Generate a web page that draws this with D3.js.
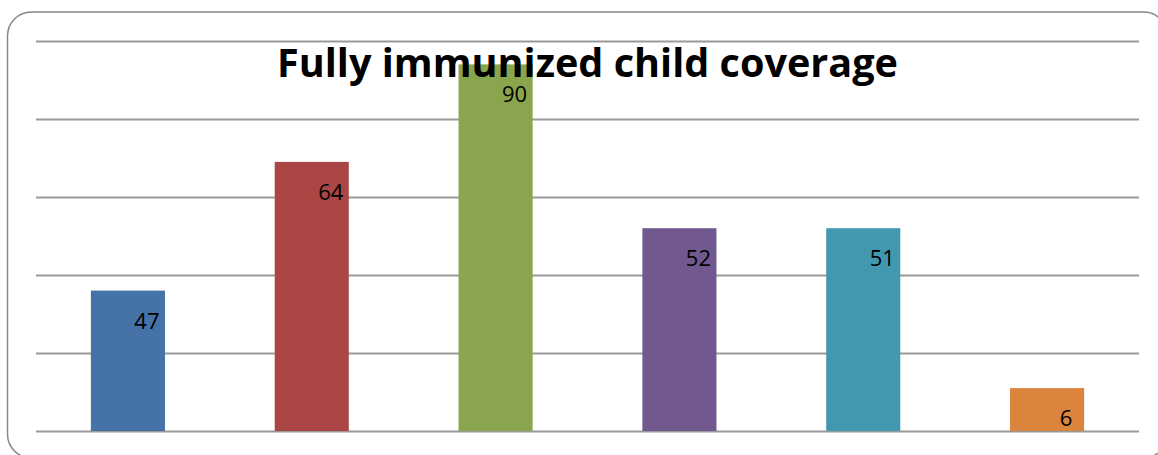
<!DOCTYPE html>
<html>
<head>
<meta charset="utf-8">
<script src="https://cdn.jsdelivr.net/npm/d3@7"></script>
<style>
  body { margin: 0; background: #fff; }
  .grid line { stroke: #9a9a9a; stroke-width: 2; }
  .label { font-family: "Open Sans", sans-serif; font-size: 22px; fill: #000; }
  .title { font-family: "Open Sans", sans-serif; font-weight: bold; font-size: 40px; fill: #000; }
</style>
</head>
<body>
<div id="chart"></div>
<script>
// bars have no category labels in the picture, so these are placeholders
var categories = ["c1", "c2", "c3", "c4", "c5", "c6"];
// bar heights as drawn (read against the gridlines, 0-100 scale)
var barValues = [36, 69, 94, 52, 52, 11];
// data labels as printed on the bars
var labelValues = [47, 64, 90, 52, 51, 6];
var gridTicks = [0, 20, 40, 60, 80, 100];
var colors = ["#4572A7", "#AA4643", "#89A54E", "#71588F", "#4198AF", "#DB843D"];

var width = 1158, height = 455;
var margin = { left: 36, right: 19, top: 41, bottom: 24 };
var plotW = width - margin.left - margin.right,
    plotH = height - margin.top - margin.bottom;

var svg = d3.select("#chart").append("svg")
    .attr("width", width)
    .attr("height", height);

// rounded outer frame
svg.append("rect")
    .attr("x", 7.5).attr("y", 12)
    .attr("width", 1160).attr("height", 446)
    .attr("rx", 24).attr("ry", 24)
    .attr("fill", "#fff")
    .attr("stroke", "#878787")
    .attr("stroke-width", 1.5);

var g = svg.append("g")
    .attr("transform", "translate(" + margin.left + "," + margin.top + ")");

var x = d3.scaleBand().domain(categories).range([0, plotW])
    .paddingInner(0.597).paddingOuter(0.597 / 2);

var y = d3.scaleLinear().domain([0, 100]).range([plotH, 0]);

// gridlines
g.append("g")
    .attr("class", "grid")
    .call(d3.axisLeft(y).tickValues(gridTicks).tickSize(-plotW).tickFormat(""))
    .call(function(s) { s.select(".domain").remove(); });

var data = categories.map(function(c, i) {
  return { cat: c, v: barValues[i], label: labelValues[i], color: colors[i] };
});

g.append("g")
    .selectAll("rect").data(data).enter().append("rect")
    .attr("x", function(d) { return x(d.cat); })
    .attr("width", x.bandwidth())
    .attr("y", function(d) { return y(d.v); })
    .attr("height", function(d) { return plotH - y(d.v); })
    .attr("fill", function(d) { return d.color; });

g.append("g")
    .selectAll("text").data(data).enter().append("text")
    .attr("class", "label")
    .attr("text-anchor", "middle")
    .attr("x", function(d) { return x(d.cat) + x.bandwidth() / 2 + 19; })
    .attr("y", function(d) { return y(d.v) + 38; })
    .text(function(d) { return d.label; });

// title sits on top of the bars
svg.append("text")
    .attr("class", "title")
    .attr("x", margin.left + plotW / 2)
    .attr("y", 77)
    .attr("text-anchor", "middle")
    .attr("textLength", 621)
    .attr("lengthAdjust", "spacingAndGlyphs")
    .text("Fully immunized child coverage");
</script>
</body>
</html>
